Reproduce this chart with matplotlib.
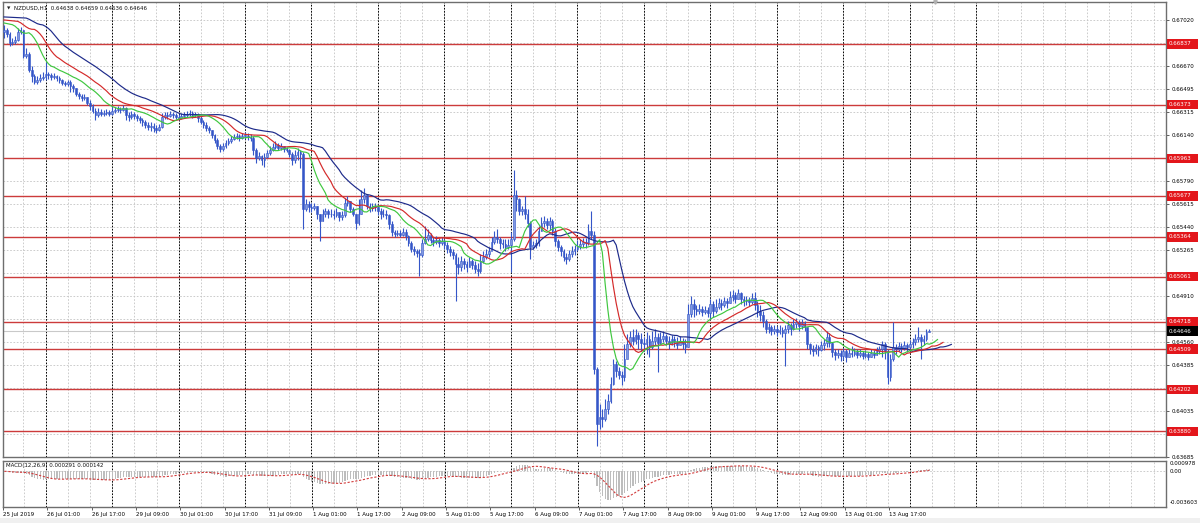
import numpy as np
import pandas as pd
import matplotlib
matplotlib.use("Agg")
import matplotlib.pyplot as plt
import matplotlib.transforms as mtransforms
from matplotlib.patches import Rectangle

plt.rcParams['font.family'] = ['DejaVu Sans']

# ---------------- data ----------------
symbol = "NZDUSD,H1"
first_bar_time = "2019-07-25 09:00"
first_open = 0.66930
last_ohlc = [0.64638, 0.64659, 0.64636, 0.64646]

close = [
    0.66944,0.66913,0.66845,0.66852,0.66868,0.66928,0.66944,0.66746,0.66761,0.66639,0.66594,0.66548,0.66563,0.66578,0.66586,
    0.66609,0.66601,0.66586,0.66594,0.66578,0.66563,0.66540,0.66533,0.66548,0.66518,0.66502,0.66457,0.66441,0.66426,0.66434,0.66388,0.66365,0.66327,0.66297,0.66320,0.66304,0.66312,0.66320,0.66304,
    0.66327,0.66335,0.66343,0.66335,0.66350,0.66297,0.66282,0.66304,0.66289,0.66274,0.66259,0.66244,0.66221,0.66206,0.66213,0.66198,0.66183,0.66206,0.66282,0.66297,0.66289,0.66304,0.66297,0.66282,
    0.66274,0.66289,0.66297,0.66304,0.66312,0.66297,0.66304,0.66274,0.66244,0.66221,0.66198,0.66183,0.66145,0.66107,0.66061,0.66038,0.66061,0.66084,0.66099,0.66114,0.66129,0.66137,0.66122,0.66137,
    0.66137,0.66129,0.66122,0.66031,0.65970,0.65985,0.65954,0.65977,0.66008,0.66031,0.66053,0.66069,0.66046,0.66061,0.66038,0.66031,0.66000,0.65954,0.65992,0.66015,0.66000,0.65574,0.65612,0.65589,
    0.65582,0.65597,0.65536,0.65483,0.65543,0.65559,0.65536,0.65543,0.65528,0.65551,0.65513,0.65528,0.65620,0.65635,0.65574,0.65543,0.65467,0.65536,0.65650,0.65688,0.65604,0.65582,0.65604,0.65589,
    0.65559,0.65536,0.65543,0.65528,0.65460,0.65399,0.65384,0.65391,0.65376,0.65399,0.65369,0.65315,0.65270,0.65254,0.65239,0.65224,0.65315,0.65346,0.65376,0.65338,0.65323,0.65338,0.65315,0.65330,
    0.65300,0.65270,0.65247,0.65224,0.65155,0.65133,0.65178,0.65155,0.65133,0.65178,0.65148,0.65117,0.65102,0.65178,0.65209,0.65232,0.65254,0.65323,0.65361,0.65346,0.65315,0.65308,0.65285,0.65300,
    0.65346,0.65688,0.65650,0.65559,0.65574,0.65536,0.65467,0.65285,0.65300,0.65315,0.65407,0.65467,0.65483,0.65452,0.65483,0.65407,0.65330,0.65285,0.65254,0.65209,0.65194,0.65232,0.65254,0.65270,
    0.65292,0.65308,0.65323,0.65315,0.65407,0.65376,0.64357,0.63938,0.63991,0.63976,0.64052,0.64113,0.64242,0.64394,0.64341,0.64311,0.64296,0.64432,0.64547,0.64600,0.64569,0.64615,0.64585,0.64554,
    0.64547,0.64585,0.64524,0.64569,0.64600,0.64554,0.64585,0.64608,0.64569,0.64547,0.64585,0.64562,0.64539,0.64569,0.64547,0.64524,0.64775,0.64851,0.64813,0.64798,0.64813,0.64790,0.64805,0.64782,
    0.64851,0.64798,0.64828,0.64859,0.64843,0.64874,0.64859,0.64904,0.64919,0.64889,0.64935,0.64889,0.64874,0.64881,0.64866,0.64897,0.64843,0.64798,0.64767,0.64722,0.64661,0.64676,0.64646,0.64661,
    0.64638,0.64653,0.64630,0.64661,0.64691,0.64661,0.64699,0.64714,0.64684,0.64706,0.64676,0.64547,0.64509,0.64493,0.64524,0.64501,0.64539,0.64554,0.64600,0.64554,0.64486,0.64463,0.64478,0.64455,
    0.64493,0.64448,0.64478,0.64470,0.64486,0.64463,0.64478,0.64455,0.64470,0.64448,0.64478,0.64463,0.64493,0.64509,0.64547,0.64493,0.64296,0.64432,0.64524,0.64509,0.64531,0.64516,0.64539,0.64524,
    0.64547,0.64562,0.64585,0.64600,0.64569,0.64585,0.64638,0.64646,
]

high = [
    0.66982,0.66959,0.66928,0.66883,0.66898,0.66959,0.66967,0.66944,0.66807,0.66776,0.66670,0.66609,0.66594,0.66609,0.66624,
    0.66700,0.66624,0.66616,0.66616,0.66601,0.66594,0.66571,0.66556,0.66563,0.66563,0.66533,0.66502,0.66472,0.66457,0.66457,0.66434,0.66411,0.66381,0.66350,0.66350,0.66343,0.66335,0.66343,0.66335,
    0.66365,0.66358,0.66365,0.66358,0.66373,0.66358,0.66320,0.66327,0.66320,0.66304,0.66289,0.66274,0.66259,0.66244,0.66244,0.66236,0.66221,0.66228,0.66312,0.66320,0.66320,0.66327,0.66320,0.66312,
    0.66304,0.66312,0.66320,0.66327,0.66335,0.66327,0.66320,0.66312,0.66289,0.66259,0.66244,0.66213,0.66183,0.66152,0.66122,0.66076,0.66084,0.66107,0.66122,0.66137,0.66152,0.66160,0.66152,0.66160,
    0.66167,0.66160,0.66152,0.66137,0.66046,0.66015,0.65992,0.66008,0.66031,0.66061,0.66084,0.66099,0.66084,0.66084,0.66061,0.66053,0.66038,0.66015,0.66031,0.66046,0.66031,0.66015,0.65650,0.65635,
    0.65620,0.65627,0.65604,0.65536,0.65574,0.65582,0.65574,0.65574,0.65566,0.65582,0.65551,0.65559,0.65665,0.65673,0.65642,0.65589,0.65543,0.65650,0.65726,0.65741,0.65688,0.65627,0.65627,0.65620,
    0.65612,0.65582,0.65574,0.65566,0.65543,0.65483,0.65414,0.65414,0.65414,0.65429,0.65422,0.65376,0.65330,0.65292,0.65270,0.65270,0.65346,0.65445,0.65422,0.65391,0.65361,0.65369,0.65353,0.65361,
    0.65346,0.65323,0.65292,0.65270,0.65239,0.65209,0.65216,0.65201,0.65178,0.65209,0.65194,0.65178,0.65163,0.65232,0.65254,0.65270,0.65285,0.65361,0.65407,0.65422,0.65361,0.65346,0.65346,0.65346,
    0.65399,0.65878,0.65726,0.65665,0.65604,0.65673,0.65574,0.65483,0.65330,0.65346,0.65445,0.65513,0.65521,0.65505,0.65513,0.65498,0.65429,0.65346,0.65300,0.65270,0.65239,0.65262,0.65292,0.65300,
    0.65338,0.65346,0.65353,0.65353,0.65460,0.65559,0.65407,0.64372,0.64090,0.64052,0.64128,0.64166,0.64296,0.64432,0.64417,0.64372,0.64341,0.64547,0.64623,0.64646,0.64661,0.64661,0.64638,0.64630,
    0.64600,0.64638,0.64615,0.64646,0.64661,0.64630,0.64638,0.64646,0.64623,0.64608,0.64615,0.64608,0.64600,0.64608,0.64592,0.64585,0.64851,0.64912,0.64889,0.64843,0.64851,0.64836,0.64836,0.64828,
    0.64889,0.64874,0.64889,0.64897,0.64889,0.64904,0.64897,0.64950,0.64957,0.64942,0.64965,0.64942,0.64912,0.64912,0.64904,0.64935,0.64942,0.64874,0.64843,0.64798,0.64737,0.64706,0.64691,0.64691,
    0.64684,0.64691,0.64676,0.64691,0.64722,0.64706,0.64737,0.64744,0.64729,0.64737,0.64722,0.64676,0.64554,0.64539,0.64547,0.64539,0.64569,0.64585,0.64646,0.64630,0.64562,0.64509,0.64509,0.64501,
    0.64516,0.64509,0.64509,0.64531,0.64516,0.64509,0.64509,0.64493,0.64501,0.64486,0.64509,0.64501,0.64524,0.64531,0.64569,0.64562,0.64509,0.64470,0.64714,0.64547,0.64562,0.64554,0.64569,0.64554,
    0.64577,0.64592,0.64623,0.64676,0.64623,0.64615,0.64661,0.64659,
]

low = [
    0.66883,0.66890,0.66822,0.66830,0.66837,0.66860,0.66913,0.66731,0.66731,0.66624,0.66548,0.66533,0.66533,0.66548,0.66563,
    0.66563,0.66571,0.66563,0.66571,0.66556,0.66540,0.66525,0.66518,0.66518,0.66472,0.66472,0.66441,0.66419,0.66403,0.66411,0.66373,0.66335,0.66312,0.66259,0.66282,0.66289,0.66289,0.66297,0.66289,
    0.66297,0.66312,0.66320,0.66312,0.66327,0.66259,0.66251,0.66266,0.66266,0.66251,0.66236,0.66213,0.66198,0.66183,0.66175,0.66167,0.66160,0.66175,0.66198,0.66266,0.66266,0.66282,0.66274,0.66266,
    0.66259,0.66266,0.66274,0.66282,0.66289,0.66274,0.66282,0.66244,0.66228,0.66198,0.66175,0.66160,0.66122,0.66084,0.66038,0.66015,0.66023,0.66046,0.66069,0.66084,0.66107,0.66114,0.66099,0.66114,
    0.66114,0.66107,0.66099,0.65992,0.65932,0.65954,0.65916,0.65901,0.65970,0.65992,0.66023,0.66038,0.66031,0.66031,0.66015,0.66015,0.65977,0.65916,0.65932,0.65954,0.65894,0.65422,0.65559,0.65551,
    0.65551,0.65566,0.65498,0.65330,0.65483,0.65513,0.65505,0.65513,0.65498,0.65513,0.65483,0.65490,0.65513,0.65604,0.65551,0.65521,0.65422,0.65452,0.65536,0.65627,0.65574,0.65551,0.65559,0.65559,
    0.65528,0.65498,0.65513,0.65498,0.65422,0.65369,0.65361,0.65369,0.65361,0.65369,0.65338,0.65292,0.65247,0.65224,0.65209,0.65064,0.65209,0.65308,0.65330,0.65315,0.65292,0.65308,0.65285,0.65300,
    0.65270,0.65239,0.65216,0.65194,0.64874,0.65079,0.65102,0.65117,0.65094,0.65133,0.65117,0.65087,0.65064,0.65087,0.65163,0.65194,0.65209,0.65270,0.65308,0.65315,0.65270,0.65277,0.65254,0.65270,
    0.65094,0.65330,0.65559,0.65528,0.65528,0.65498,0.65437,0.65194,0.65270,0.65277,0.65292,0.65407,0.65437,0.65422,0.65414,0.65376,0.65292,0.65254,0.65216,0.65178,0.65155,0.65178,0.65209,0.65224,
    0.65254,0.65270,0.65285,0.65277,0.65300,0.65346,0.64318,0.63770,0.63899,0.63915,0.63961,0.64014,0.64098,0.64235,0.64296,0.64280,0.64235,0.64265,0.64470,0.64524,0.64539,0.64547,0.64509,0.64493,
    0.64493,0.64470,0.64448,0.64509,0.64539,0.64334,0.64547,0.64562,0.64539,0.64509,0.64539,0.64524,0.64509,0.64539,0.64509,0.64478,0.64524,0.64752,0.64752,0.64767,0.64775,0.64760,0.64775,0.64752,
    0.64737,0.64752,0.64782,0.64813,0.64805,0.64828,0.64821,0.64859,0.64874,0.64859,0.64889,0.64851,0.64836,0.64843,0.64836,0.64851,0.64805,0.64752,0.64722,0.64676,0.64630,0.64630,0.64615,0.64623,
    0.64608,0.64623,0.64600,0.64379,0.64630,0.64615,0.64653,0.64668,0.64646,0.64661,0.64646,0.64509,0.64470,0.64455,0.64470,0.64455,0.64493,0.64501,0.64524,0.64524,0.64448,0.64425,0.64440,0.64417,
    0.64425,0.64410,0.64448,0.64448,0.64455,0.64440,0.64448,0.64432,0.64440,0.64425,0.64448,0.64440,0.64463,0.64470,0.64448,0.64432,0.64242,0.64265,0.64417,0.64470,0.64493,0.64486,0.64501,0.64486,
    0.64509,0.64516,0.64539,0.64562,0.64432,0.64539,0.64569,0.64636,
]

# horizontal support / resistance levels (red)
levels = [0.66837, 0.66373, 0.65963, 0.65677, 0.65364, 0.65061, 0.64718, 0.64509, 0.64202, 0.63880]
current_price = 0.64646

# right price scale (grid levels; labels hidden behind the red level tags are left blank)
price_ticks = [0.67020, 0.66845, 0.66670, 0.66495, 0.66315, 0.66140, 0.65965, 0.65790, 0.65615,
               0.65440, 0.65265, 0.65090, 0.64910, 0.64735, 0.64560, 0.64385, 0.64210, 0.64035,
               0.63860, 0.63685]
hidden_ticks = [0.66845, 0.65965, 0.65090, 0.64735, 0.64210, 0.63860]
price_lo, price_hi = 0.63685, 0.67157

# Alligator starting values at the left edge
jaw_start, teeth_start, lips_start = 0.67043, 0.67020, 0.66997

# MACD panel
macd_scale_ticks = [0.000978, 0.0, -0.003603]
macd_scale_labels = ["0.000978", "0.00", "-0.003603"]
macd_lo, macd_hi = -0.00419, 0.00121
macd_title = "MACD(12,26,9) 0.000291 0.000142"

# ---------------- derived series ----------------
n = len(close)
idx = np.arange(n)
c = np.array(close)
h = np.array(high)
l = np.array(low)
o = np.concatenate([[first_open], c[:-1]])

times = pd.date_range(first_bar_time, periods=24 * 30, freq="h")
times = times[times.dayofweek < 5]

def smma(values, period, seed):
    out = np.empty(len(values))
    prev = seed
    for k, v in enumerate(values):
        prev = (prev * (period - 1) + v) / period
        out[k] = prev
    return out

median = (h + l) / 2.0
cs = pd.Series(c)
macd = (cs.ewm(span=12, adjust=False).mean() - cs.ewm(span=26, adjust=False).mean()).values
signal = pd.Series(macd).rolling(9, min_periods=1).mean().values

# ---------------- figure ----------------
W, H = 1200, 523
fig = plt.figure(figsize=(W / 100, H / 100), dpi=100, facecolor="white")
fig.patches.append(Rectangle((0, 0), 1, 5 / H, transform=fig.transFigure,
                             facecolor="#f0f0f0", edgecolor="none"))

left_px, right_px = 3, 1166
ax = fig.add_axes([left_px / W, 1 - 457 / H, (right_px - left_px) / W, (457 - 2) / H])
axm = fig.add_axes([left_px / W, 1 - 507 / H, (right_px - left_px) / W, (507 - 461) / H])

ppb = 2.77
x_lo = (left_px - 4) / ppb
x_hi = (right_px - 4) / ppb
FS = 4.0

for a in (ax, axm):
    a.set_xlim(x_lo, x_hi)
    a.set_facecolor("white")
    for s in a.spines.values():
        s.set_color("#6e6e6e")
        s.set_linewidth(1.0)

ax.set_ylim(price_lo, price_hi)
axm.set_ylim(macd_lo, macd_hi)

# grids
sep_idx = [k for k in range(len(times[:352])) if times[k].hour == 0]
grid_x = np.arange(sep_idx[0] - 16, x_hi, 8)
for a in (ax, axm):
    for gx in grid_x:
        a.axvline(gx, color="#c4c4c4", lw=0.6, ls=(0, (2, 2)), zorder=0.5)
    for sx in sep_idx:
        a.axvline(sx, color="#000000", lw=0.7, ls=(0, (1.6, 1.6)), zorder=0.8)
for py in price_ticks:
    ax.axhline(py, color="#c4c4c4", lw=0.6, ls=(0, (2, 2)), zorder=0.5)
axm.axhline(0.0, color="#c4c4c4", lw=0.6, ls=(0, (2, 2)), zorder=0.5)

# level lines
for lv in levels:
    ax.axhline(lv, color="#cc3b3b", lw=1.0, zorder=1.5)
ax.axhline(current_price, color="#c9c9c9", lw=0.8, zorder=1.4)

# candles
bull = c >= o
body_lo = np.minimum(o, c)
body_h = np.maximum(np.abs(c - o), 0.00002)
ax.vlines(idx, l, h, color="#3556c8", lw=0.8, zorder=3)
ax.bar(idx[bull], body_h[bull], bottom=body_lo[bull], width=0.62,
       color="#7e98e2", edgecolor="#3556c8", linewidth=0.4, zorder=3.1)
ax.bar(idx[~bull], body_h[~bull], bottom=body_lo[~bull], width=0.62,
       color="#3556c8", edgecolor="#3556c8", linewidth=0.4, zorder=3.1)

# Alligator
for period, shift, seed, col in [(13, 8, jaw_start, "#1d2a8a"),
                                  (8, 5, teeth_start, "#d42a2a"),
                                  (5, 3, lips_start, "#3fc73f")]:
    s = smma(median, period, seed)
    xs = np.concatenate([[0], idx + shift])
    ys = np.concatenate([[seed], s])
    ax.plot(xs, ys, color=col, lw=0.85, zorder=4)

# right price axis
ax.yaxis.tick_right()
ax.set_yticks(price_ticks)
ax.set_yticklabels(["" if v in hidden_ticks else f"{v:.5f}" for v in price_ticks])
ax.tick_params(axis="y", length=2.5, width=0.6, color="#444444", labelsize=FS, pad=1.5)
ax.set_xticks([])

# red level labels and black current price label
bt = mtransforms.blended_transform_factory(ax.transAxes, ax.transData)
px_y = (price_hi - price_lo) / 455.0
box_w = 31 / (right_px - left_px)
for lv in levels:
    ax.add_patch(Rectangle((1.0 + 1 / 1163, lv - 4.6 * px_y), box_w, 9.2 * px_y,
                           transform=bt, facecolor="#e3161b", edgecolor="none",
                           clip_on=False, zorder=6))
    ax.text(1.0 + 3 / 1163, lv, f"{lv:.5f}", transform=bt, fontsize=FS, color="white",
            va="center", ha="left", zorder=7, clip_on=False)
ax.add_patch(Rectangle((1.0 + 1 / 1163, current_price - 4.6 * px_y), box_w, 9.2 * px_y,
                       transform=bt, facecolor="#000000", edgecolor="none",
                       clip_on=False, zorder=6))
ax.text(1.0 + 3 / 1163, current_price, f"{current_price:.5f}", transform=bt, fontsize=FS,
        color="white", va="center", ha="left", zorder=7, clip_on=False)

# title
ax.text(4 / 1163, 1 - 6 / 455, "\u25BC", transform=ax.transAxes, fontsize=3.2,
        va="center", ha="left", color="#222222")
ax.text(11 / 1163, 1 - 6 / 455,
        f"{symbol}  " + " ".join(f"{v:.5f}" for v in last_ohlc),
        transform=ax.transAxes, fontsize=FS, va="center", ha="left", color="#111111")
# chart shift marker
ax.plot([n + 1], [1.0], transform=mtransforms.blended_transform_factory(ax.transData, ax.transAxes),
        marker="v", color="#b0b0b0", ms=2.5, clip_on=False, zorder=8)

# MACD panel
axm.bar(idx, macd, width=0.45, color="#bdbdbd", edgecolor="none", zorder=2)
axm.plot(idx, signal, color="#d23c3c", lw=0.8, ls=(0, (2, 1.5)), zorder=3)
axm.yaxis.tick_right()
axm.set_yticks(macd_scale_ticks)
axm.set_yticklabels(macd_scale_labels)
axm.tick_params(axis="y", length=0, labelsize=FS, pad=2.5)
axm.text(3 / 1163, 1 - 5 / 46, macd_title, transform=axm.transAxes, fontsize=FS,
         va="center", ha="left", color="#111111")

# time axis
lab_idx = np.arange(0, n, 16)
lab_txt = []
for k in lab_idx:
    t = times[k]
    if k == 0:
        lab_txt.append(f"{t.day} {t.strftime('%b')} {t.year}")
    else:
        lab_txt.append(f"{t.day} {t.strftime('%b %H:%M')}")
axm.set_xticks(lab_idx - 0.5)
axm.set_xticklabels(lab_txt, ha="left")
axm.tick_params(axis="x", length=2, width=0.6, color="#444444", labelsize=FS, pad=1.5)

fig.savefig("out.png", dpi=100, facecolor="white")
